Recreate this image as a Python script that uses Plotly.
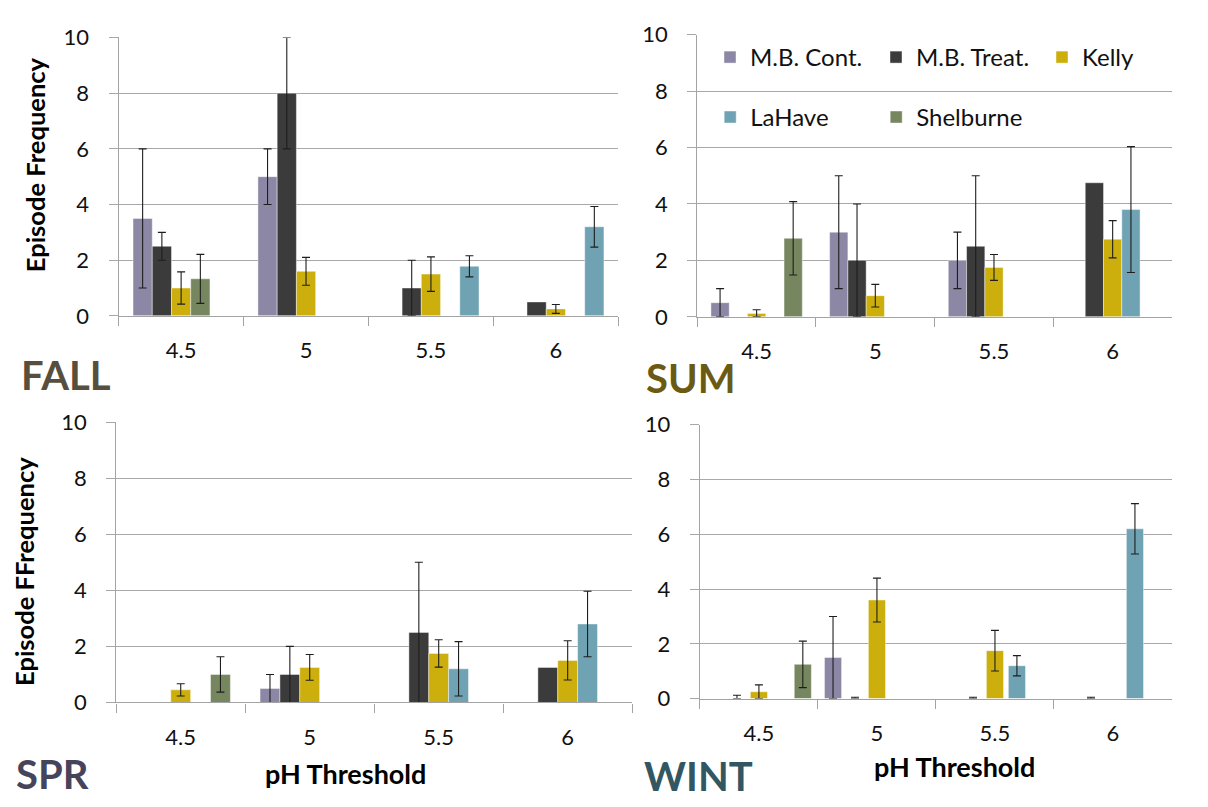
import plotly.graph_objects as go

# ---------------- data ----------------
categories = ["4.5", "5", "5.5", "6"]
series_names = ["M.B. Cont.", "M.B. Treat.", "Kelly", "LaHave", "Shelburne"]

# FALL
fall_mb_cont = [3.5, 5.0, None, None]
fall_mb_cont_err = [2.5, 1.0, None, None]
fall_mb_treat = [2.5, 8.0, 1.0, 0.5]
fall_mb_treat_err = [0.5, 2.0, 1.0, None]
fall_kelly = [1.0, 1.6, 1.5, 0.25]
fall_kelly_err = [0.58, 0.5, 0.62, 0.16]
fall_lahave = [None, None, 1.78, 3.2]
fall_lahave_err = [None, None, 0.38, 0.73]
fall_shelburne = [1.33, None, None, None]
fall_shelburne_err = [0.88, None, None, None]

# SUMMER
sum_mb_cont = [0.5, 3.0, 2.0, None]
sum_mb_cont_err = [0.5, 2.0, 1.0, None]
sum_mb_treat = [None, 2.0, 2.5, 4.75]
sum_mb_treat_err = [None, 2.0, 2.5, None]
sum_kelly = [0.12, 0.75, 1.75, 2.75]
sum_kelly_err = [0.13, 0.4, 0.46, 0.66]
sum_lahave = [None, None, None, 3.8]
sum_lahave_err = [None, None, None, 2.23]
sum_shelburne = [2.78, None, None, None]
sum_shelburne_err = [1.3, None, None, None]

# SPRING
spr_mb_cont = [None, 0.5, None, None]
spr_mb_cont_err = [None, 0.5, None, None]
spr_mb_treat = [None, 1.0, 2.5, 1.25]
spr_mb_treat_err = [None, 1.0, 2.5, None]
spr_kelly = [0.45, 1.25, 1.75, 1.5]
spr_kelly_err = [0.22, 0.46, 0.49, 0.7]
spr_lahave = [None, None, 1.2, 2.8]
spr_lahave_err = [None, None, 0.97, 1.17]
spr_shelburne = [1.0, None, None, None]
spr_shelburne_err = [0.63, None, None, None]

# WINTER
wint_mb_cont = [None, 1.5, None, None]
wint_mb_cont_err = [None, 1.5, None, None]
wint_mb_treat = [0, 0, 0, 0]
wint_mb_treat_err = [0.12, 0.05, 0.05, 0.05]
wint_kelly = [0.25, 3.6, 1.75, None]
wint_kelly_err = [0.25, 0.8, 0.74, None]
wint_lahave = [None, None, 1.2, 6.2]
wint_lahave_err = [None, None, 0.37, 0.92]
wint_shelburne = [1.25, None, None, None]
wint_shelburne_err = [0.85, None, None, None]

# ---------------- style ----------------
colors = {
    "M.B. Cont.": "#8B87A5",
    "M.B. Treat.": "#3B3B3B",
    "Kelly": "#CCAE0C",
    "LaHave": "#6FA2B2",
    "Shelburne": "#76865F",
}
FONT = "Lato"
W, H = 1208, 807

panels = [
    dict(key="fall", ax="", label="FALL", label_color="#574F3E",
         order=["M.B. Cont.", "M.B. Treat.", "Kelly", "Shelburne", "LaHave"],
         data={"M.B. Cont.": (fall_mb_cont, fall_mb_cont_err),
               "M.B. Treat.": (fall_mb_treat, fall_mb_treat_err),
               "Kelly": (fall_kelly, fall_kelly_err),
               "LaHave": (fall_lahave, fall_lahave_err),
               "Shelburne": (fall_shelburne, fall_shelburne_err)},
         px=(122.3, 637.3), py=(24.3, 312.3), slot=0.154, bw=0.154, legend=False),
    dict(key="sum", ax="2", label="SUM", label_color="#6B5A12",
         order=series_names,
         data={"M.B. Cont.": (sum_mb_cont, sum_mb_cont_err),
               "M.B. Treat.": (sum_mb_treat, sum_mb_treat_err),
               "Kelly": (sum_kelly, sum_kelly_err),
               "LaHave": (sum_lahave, sum_lahave_err),
               "Shelburne": (sum_shelburne, sum_shelburne_err)},
         px=(718.7, 1208), py=(21.3, 313.3), slot=0.154, bw=0.154, legend=True),
    dict(key="spr", ax="3", label="SPR", label_color="#46445A",
         order=series_names,
         data={"M.B. Cont.": (spr_mb_cont, spr_mb_cont_err),
               "M.B. Treat.": (spr_mb_treat, spr_mb_treat_err),
               "Kelly": (spr_kelly, spr_kelly_err),
               "LaHave": (spr_lahave, spr_lahave_err),
               "Shelburne": (spr_shelburne, spr_shelburne_err)},
         px=(119.8, 651.6), py=(422.3, 712.3), slot=0.154, bw=0.154, legend=False),
    dict(key="wint", ax="4", label="WINT", label_color="#325662",
         order=series_names,
         data={"M.B. Cont.": (wint_mb_cont, wint_mb_cont_err),
               "M.B. Treat.": (wint_mb_treat, wint_mb_treat_err),
               "Kelly": (wint_kelly, wint_kelly_err),
               "LaHave": (wint_lahave, wint_lahave_err),
               "Shelburne": (wint_shelburne, wint_shelburne_err)},
         px=(721.4, 1208), py=(425.0, 708.3), slot=0.186, bw=0.145, legend=False),
]


def trim(arr):
    """drop trailing missing entries so plotly draws no bar cap there"""
    out = list(arr)
    while out and out[-1] is None:
        out.pop()
    return out


fig = go.Figure()

for p in panels:
    for i, name in enumerate(p["order"]):
        vals, errs = p["data"][name]
        minus = [None if (e is None or v is None) else min(e, v) for v, e in zip(vals, errs)]
        center = (i - 2) * p["slot"]
        fig.add_trace(go.Bar(
            x=categories, y=vals, name=name,
            xaxis="x" + p["ax"], yaxis="y" + p["ax"],
            offset=center - p["bw"] / 2, width=p["bw"],
            marker=dict(color=colors[name],
                        line=dict(color="rgba(255,255,255,0.55)", width=0.8)),
            error_y=dict(type="data", symmetric=False, array=trim(errs), arrayminus=trim(minus),
                         color="#1E1E1E", thickness=1.1, width=4),
            showlegend=p["legend"],
            legend="legend2" if name in ("LaHave", "Shelburne") else "legend",
            hoverinfo="x+y+name",
        ))

layout = dict(
    width=W, height=H, barmode="overlay",
    margin=dict(l=0, r=0, t=0, b=0),
    paper_bgcolor="white", plot_bgcolor="white",
    font=dict(family=FONT, size=22, color="#111111"),
    showlegend=True,
)

annotations = []
for p in panels:
    x0, x1 = p["px"]
    ytop, ybot = p["py"]
    ax = p["ax"]
    layout["xaxis" + ax] = dict(
        domain=[x0 / W, min(x1 / W, 1.0)], anchor="y" + ax,
        type="category", range=[-0.5, 3.5],
        showline=True, linecolor="#A3A3A3", linewidth=1.3,
        ticks="outside", tickson="boundaries", ticklen=9, tickcolor="#A3A3A3",
        tickwidth=1.3, showgrid=False, zeroline=False,
        tickfont=dict(family=FONT, size=22, color="#111111"),
        ticklabelstandoff=15, fixedrange=True,
    )
    layout["yaxis" + ax] = dict(
        domain=[1 - ybot / H, 1 - ytop / H], anchor="x" + ax,
        range=[0, 10], dtick=2, tick0=0,
        showline=True, linecolor="#A3A3A3", linewidth=1.3,
        showgrid=True, gridcolor="#A8A8A8", gridwidth=1.3,
        ticks="outside", ticklen=9, tickcolor="#A8A8A8", tickwidth=1.3,
        zeroline=False,
        tickfont=dict(family=FONT, size=22, color="#111111"),
        ticklabelstandoff=15, fixedrange=True,
    )

# season labels (left edge, vertical centre of capitals)
season_pos = {"fall": (20, 373), "sum": (664, 377), "spr": (14, 786), "wint": (662, 788)}
for p in panels:
    x, y = season_pos[p["key"]]
    annotations.append(dict(
        text=p["label"], x=x / W, y=1 - y / H, xref="paper", yref="paper",
        xanchor="left", yanchor="middle", showarrow=False,
        font=dict(family=FONT, size=40, color=p["label_color"], weight="bold"),
    ))

# axis titles
annotations += [
    dict(text="Episode Frequency", x=35.5 / W, y=1 - 156 / H, xref="paper", yref="paper",
         textangle=-90, showarrow=False, xanchor="center", yanchor="middle",
         font=dict(family=FONT, size=25.5, color="#000000", weight="bold")),
    dict(text="Episode FFrequency", x=24 / W, y=1 - 577 / H, xref="paper", yref="paper",
         textangle=-90, showarrow=False, xanchor="center", yanchor="middle",
         font=dict(family=FONT, size=25.5, color="#000000", weight="bold")),
    dict(text="pH Threshold", x=356 / W, y=1 - 786 / H, xref="paper", yref="paper",
         showarrow=False, xanchor="center", yanchor="middle",
         font=dict(family=FONT, size=27, color="#000000", weight="bold")),
    dict(text="pH Threshold", x=984 / W, y=1 - 779 / H, xref="paper", yref="paper",
         showarrow=False, xanchor="center", yanchor="middle",
         font=dict(family=FONT, size=27, color="#000000", weight="bold")),
]
layout["annotations"] = annotations

legend_common = dict(
    orientation="h", xref="paper", yref="paper", xanchor="left", yanchor="middle",
    bgcolor="rgba(255,255,255,0)", borderwidth=0,
    font=dict(family=FONT, size=24, color="#111111"),
    entrywidth=121, entrywidthmode="pixels", tracegroupgap=0, itemclick=False,
)
layout["legend"] = dict(legend_common, x=732 / W, y=1 - 45 / H)
layout["legend2"] = dict(legend_common, x=732 / W, y=1 - 107 / H)

fig.update_layout(**layout)
fig.write_html("out.html", config={"displayModeBar": False},
               post_script="document.body.style.margin='0';")
